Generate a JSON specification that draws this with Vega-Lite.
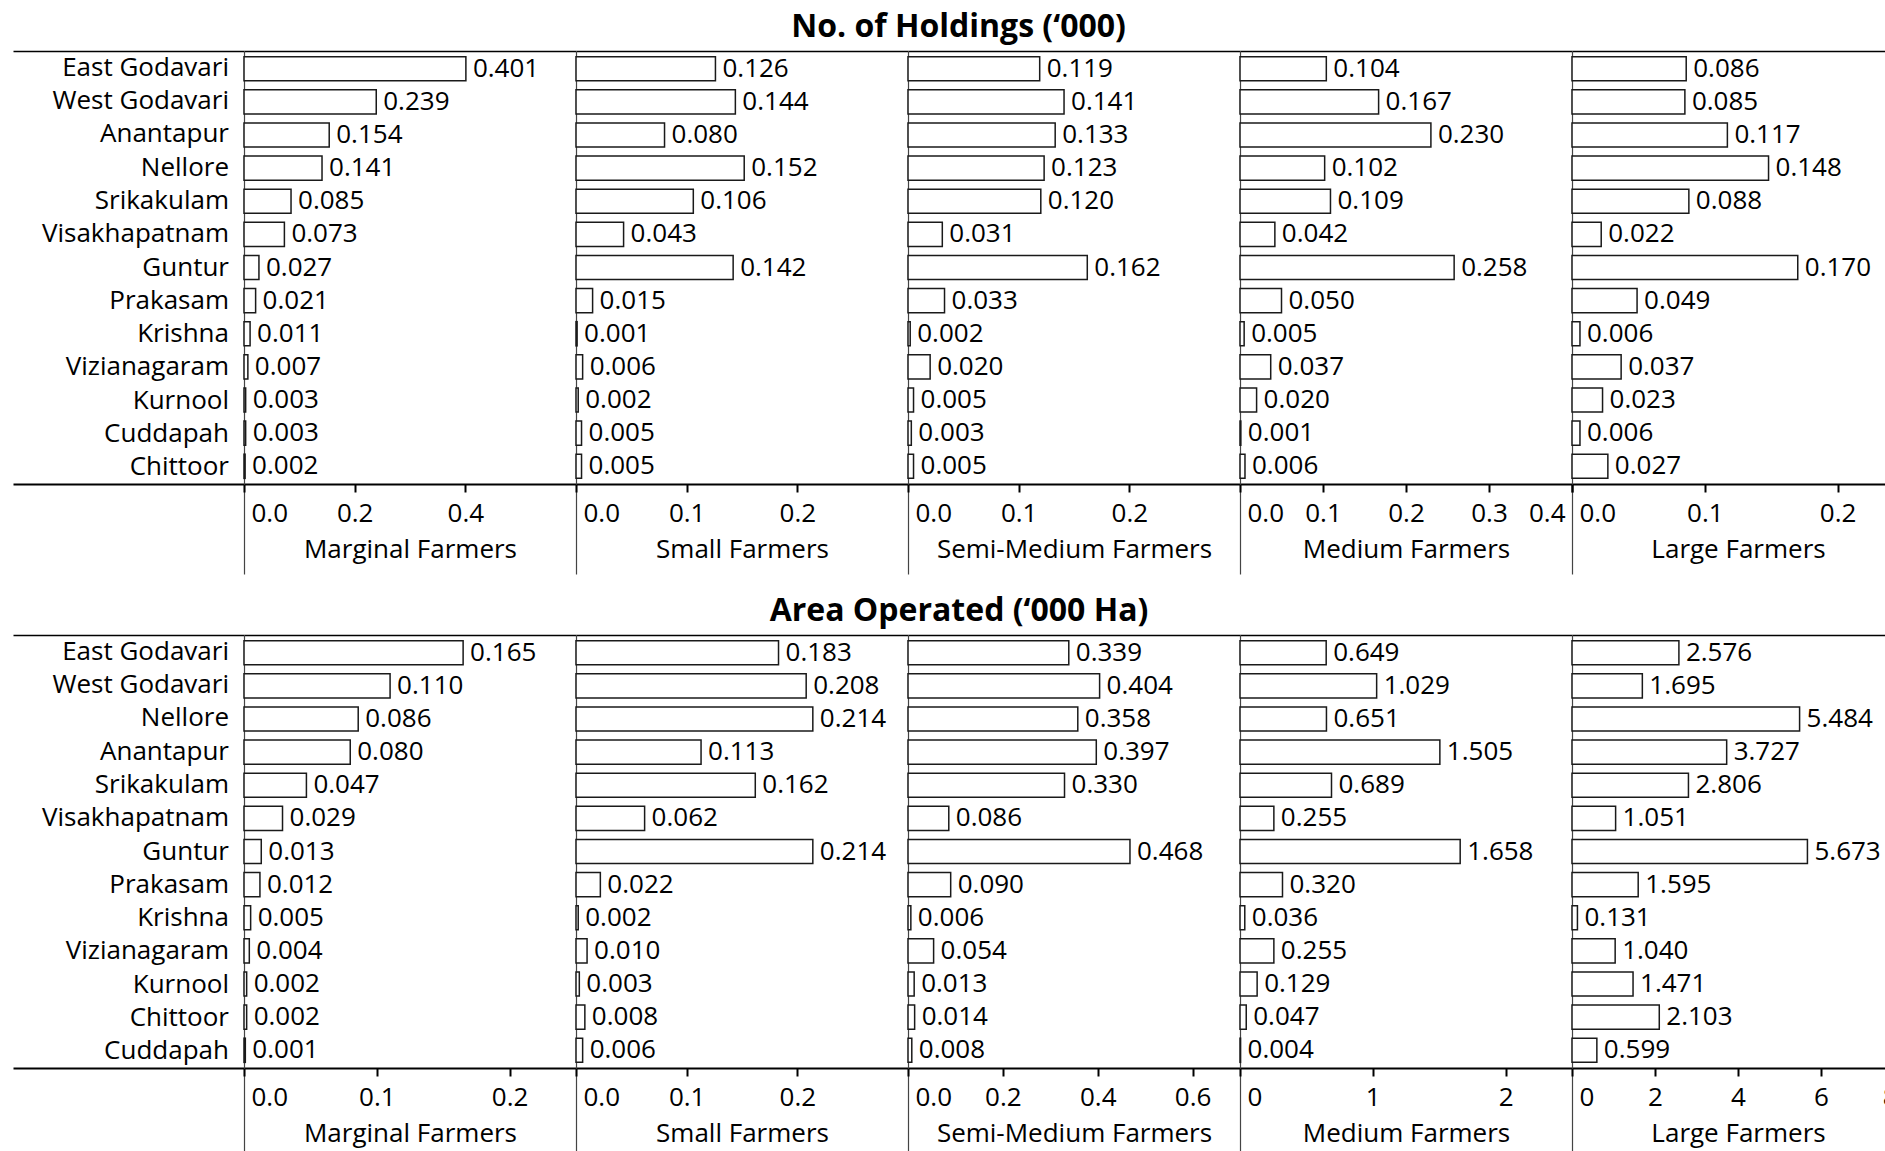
{
"$schema": "https://vega.github.io/schema/vega-lite/v6.json",
"padding": {"left": 13, "top": 11, "right": 0, "bottom": 0},
"config": {
  "view": {"stroke": null},
  "font": "Open Sans",
  "axis": {"grid": false, "labelFont": "Open Sans", "labelFontSize": 26, "labelColor": "black", "titleFont": "Open Sans", "titleFontSize": 26, "titleFontWeight": "normal", "titleColor": "black", "domainColor": "black", "domainWidth": 2, "tickColor": "black", "tickWidth": 2, "tickSize": 8, "labelPadding": 8, "titlePadding": 10, "labelFlush": true, "labelFlushOffset": -7, "labelOverlap": false}
},
"datasets": {
"holdings": [
{"region":"East Godavari","cat":"Marginal Farmers","value":0.401},{"region":"East Godavari","cat":"Small Farmers","value":0.126},{"region":"East Godavari","cat":"Semi-Medium Farmers","value":0.119},{"region":"East Godavari","cat":"Medium Farmers","value":0.104},{"region":"East Godavari","cat":"Large Farmers","value":0.086},
{"region":"West Godavari","cat":"Marginal Farmers","value":0.239},{"region":"West Godavari","cat":"Small Farmers","value":0.144},{"region":"West Godavari","cat":"Semi-Medium Farmers","value":0.141},{"region":"West Godavari","cat":"Medium Farmers","value":0.167},{"region":"West Godavari","cat":"Large Farmers","value":0.085},
{"region":"Anantapur","cat":"Marginal Farmers","value":0.154},{"region":"Anantapur","cat":"Small Farmers","value":0.080},{"region":"Anantapur","cat":"Semi-Medium Farmers","value":0.133},{"region":"Anantapur","cat":"Medium Farmers","value":0.230},{"region":"Anantapur","cat":"Large Farmers","value":0.117},
{"region":"Nellore","cat":"Marginal Farmers","value":0.141},{"region":"Nellore","cat":"Small Farmers","value":0.152},{"region":"Nellore","cat":"Semi-Medium Farmers","value":0.123},{"region":"Nellore","cat":"Medium Farmers","value":0.102},{"region":"Nellore","cat":"Large Farmers","value":0.148},
{"region":"Srikakulam","cat":"Marginal Farmers","value":0.085},{"region":"Srikakulam","cat":"Small Farmers","value":0.106},{"region":"Srikakulam","cat":"Semi-Medium Farmers","value":0.120},{"region":"Srikakulam","cat":"Medium Farmers","value":0.109},{"region":"Srikakulam","cat":"Large Farmers","value":0.088},
{"region":"Visakhapatnam","cat":"Marginal Farmers","value":0.073},{"region":"Visakhapatnam","cat":"Small Farmers","value":0.043},{"region":"Visakhapatnam","cat":"Semi-Medium Farmers","value":0.031},{"region":"Visakhapatnam","cat":"Medium Farmers","value":0.042},{"region":"Visakhapatnam","cat":"Large Farmers","value":0.022},
{"region":"Guntur","cat":"Marginal Farmers","value":0.027},{"region":"Guntur","cat":"Small Farmers","value":0.142},{"region":"Guntur","cat":"Semi-Medium Farmers","value":0.162},{"region":"Guntur","cat":"Medium Farmers","value":0.258},{"region":"Guntur","cat":"Large Farmers","value":0.170},
{"region":"Prakasam","cat":"Marginal Farmers","value":0.021},{"region":"Prakasam","cat":"Small Farmers","value":0.015},{"region":"Prakasam","cat":"Semi-Medium Farmers","value":0.033},{"region":"Prakasam","cat":"Medium Farmers","value":0.050},{"region":"Prakasam","cat":"Large Farmers","value":0.049},
{"region":"Krishna","cat":"Marginal Farmers","value":0.011},{"region":"Krishna","cat":"Small Farmers","value":0.001},{"region":"Krishna","cat":"Semi-Medium Farmers","value":0.002},{"region":"Krishna","cat":"Medium Farmers","value":0.005},{"region":"Krishna","cat":"Large Farmers","value":0.006},
{"region":"Vizianagaram","cat":"Marginal Farmers","value":0.007},{"region":"Vizianagaram","cat":"Small Farmers","value":0.006},{"region":"Vizianagaram","cat":"Semi-Medium Farmers","value":0.020},{"region":"Vizianagaram","cat":"Medium Farmers","value":0.037},{"region":"Vizianagaram","cat":"Large Farmers","value":0.037},
{"region":"Kurnool","cat":"Marginal Farmers","value":0.003},{"region":"Kurnool","cat":"Small Farmers","value":0.002},{"region":"Kurnool","cat":"Semi-Medium Farmers","value":0.005},{"region":"Kurnool","cat":"Medium Farmers","value":0.020},{"region":"Kurnool","cat":"Large Farmers","value":0.023},
{"region":"Cuddapah","cat":"Marginal Farmers","value":0.003},{"region":"Cuddapah","cat":"Small Farmers","value":0.005},{"region":"Cuddapah","cat":"Semi-Medium Farmers","value":0.003},{"region":"Cuddapah","cat":"Medium Farmers","value":0.001},{"region":"Cuddapah","cat":"Large Farmers","value":0.006},
{"region":"Chittoor","cat":"Marginal Farmers","value":0.002},{"region":"Chittoor","cat":"Small Farmers","value":0.005},{"region":"Chittoor","cat":"Semi-Medium Farmers","value":0.005},{"region":"Chittoor","cat":"Medium Farmers","value":0.006},{"region":"Chittoor","cat":"Large Farmers","value":0.027}
],
"area": [
{"region":"East Godavari","cat":"Marginal Farmers","value":0.165},{"region":"East Godavari","cat":"Small Farmers","value":0.183},{"region":"East Godavari","cat":"Semi-Medium Farmers","value":0.339},{"region":"East Godavari","cat":"Medium Farmers","value":0.649},{"region":"East Godavari","cat":"Large Farmers","value":2.576},
{"region":"West Godavari","cat":"Marginal Farmers","value":0.110},{"region":"West Godavari","cat":"Small Farmers","value":0.208},{"region":"West Godavari","cat":"Semi-Medium Farmers","value":0.404},{"region":"West Godavari","cat":"Medium Farmers","value":1.029},{"region":"West Godavari","cat":"Large Farmers","value":1.695},
{"region":"Nellore","cat":"Marginal Farmers","value":0.086},{"region":"Nellore","cat":"Small Farmers","value":0.214},{"region":"Nellore","cat":"Semi-Medium Farmers","value":0.358},{"region":"Nellore","cat":"Medium Farmers","value":0.651},{"region":"Nellore","cat":"Large Farmers","value":5.484},
{"region":"Anantapur","cat":"Marginal Farmers","value":0.080},{"region":"Anantapur","cat":"Small Farmers","value":0.113},{"region":"Anantapur","cat":"Semi-Medium Farmers","value":0.397},{"region":"Anantapur","cat":"Medium Farmers","value":1.505},{"region":"Anantapur","cat":"Large Farmers","value":3.727},
{"region":"Srikakulam","cat":"Marginal Farmers","value":0.047},{"region":"Srikakulam","cat":"Small Farmers","value":0.162},{"region":"Srikakulam","cat":"Semi-Medium Farmers","value":0.330},{"region":"Srikakulam","cat":"Medium Farmers","value":0.689},{"region":"Srikakulam","cat":"Large Farmers","value":2.806},
{"region":"Visakhapatnam","cat":"Marginal Farmers","value":0.029},{"region":"Visakhapatnam","cat":"Small Farmers","value":0.062},{"region":"Visakhapatnam","cat":"Semi-Medium Farmers","value":0.086},{"region":"Visakhapatnam","cat":"Medium Farmers","value":0.255},{"region":"Visakhapatnam","cat":"Large Farmers","value":1.051},
{"region":"Guntur","cat":"Marginal Farmers","value":0.013},{"region":"Guntur","cat":"Small Farmers","value":0.214},{"region":"Guntur","cat":"Semi-Medium Farmers","value":0.468},{"region":"Guntur","cat":"Medium Farmers","value":1.658},{"region":"Guntur","cat":"Large Farmers","value":5.673},
{"region":"Prakasam","cat":"Marginal Farmers","value":0.012},{"region":"Prakasam","cat":"Small Farmers","value":0.022},{"region":"Prakasam","cat":"Semi-Medium Farmers","value":0.090},{"region":"Prakasam","cat":"Medium Farmers","value":0.320},{"region":"Prakasam","cat":"Large Farmers","value":1.595},
{"region":"Krishna","cat":"Marginal Farmers","value":0.005},{"region":"Krishna","cat":"Small Farmers","value":0.002},{"region":"Krishna","cat":"Semi-Medium Farmers","value":0.006},{"region":"Krishna","cat":"Medium Farmers","value":0.036},{"region":"Krishna","cat":"Large Farmers","value":0.131},
{"region":"Vizianagaram","cat":"Marginal Farmers","value":0.004},{"region":"Vizianagaram","cat":"Small Farmers","value":0.010},{"region":"Vizianagaram","cat":"Semi-Medium Farmers","value":0.054},{"region":"Vizianagaram","cat":"Medium Farmers","value":0.255},{"region":"Vizianagaram","cat":"Large Farmers","value":1.040},
{"region":"Kurnool","cat":"Marginal Farmers","value":0.002},{"region":"Kurnool","cat":"Small Farmers","value":0.003},{"region":"Kurnool","cat":"Semi-Medium Farmers","value":0.013},{"region":"Kurnool","cat":"Medium Farmers","value":0.129},{"region":"Kurnool","cat":"Large Farmers","value":1.471},
{"region":"Chittoor","cat":"Marginal Farmers","value":0.002},{"region":"Chittoor","cat":"Small Farmers","value":0.008},{"region":"Chittoor","cat":"Semi-Medium Farmers","value":0.014},{"region":"Chittoor","cat":"Medium Farmers","value":0.047},{"region":"Chittoor","cat":"Large Farmers","value":2.103},
{"region":"Cuddapah","cat":"Marginal Farmers","value":0.001},{"region":"Cuddapah","cat":"Small Farmers","value":0.006},{"region":"Cuddapah","cat":"Semi-Medium Farmers","value":0.008},{"region":"Cuddapah","cat":"Medium Farmers","value":0.004},{"region":"Cuddapah","cat":"Large Farmers","value":0.599}
]
},
"spacing": 20,
"vconcat": [
{
"title": {"text": "No. of Holdings (‘000)", "anchor": "middle", "font": "Open Sans", "fontSize": 32, "fontWeight": "bold", "color": "black", "baseline": "alphabetic", "offset": -18},
"spacing": 0, "bounds": "flush",
"hconcat": [
{"width": 231, "height": 433, "data": {"name": "holdings"}, "transform": [{"filter": {"field": "cat", "equal": "Marginal Farmers"}}],
 "encoding": {"y": {"field": "region", "type": "nominal", "sort": ["East Godavari","West Godavari","Anantapur","Nellore","Srikakulam","Visakhapatnam","Guntur","Prakasam","Krishna","Vizianagaram","Kurnool","Cuddapah","Chittoor"], "scale": {"paddingInner": 0.27, "paddingOuter": 0.17}, "axis": null}},
 "layer": [
  {"mark": {"type": "text", "align": "right", "baseline": "middle", "dx": -15, "fontSize": 26, "font": "Open Sans", "color": "black"},
   "encoding": {"x": {"datum": 1, "type": "quantitative", "scale": {"domain": [0, 1]}, "axis": {"orient": "bottom", "labels": false, "ticks": false, "title": null}}, "text": {"field": "region"}}},
  {"mark": {"type": "text", "opacity": 0},
   "encoding": {"x": {"datum": 1, "type": "quantitative", "scale": {"domain": [0, 1]}, "axis": {"orient": "top", "labels": false, "ticks": false, "title": null, "domainWidth": 1.7}}, "text": {"field": "region"}}}
 ],
 "resolve": {"axis": {"x": "independent"}}},
{"width": 332, "height": 433, "data": {"name": "holdings"}, "transform": [{"filter": {"field": "cat", "equal": "Marginal Farmers"}}],
 "encoding": {"y": {"field": "region", "type": "nominal", "sort": ["East Godavari","West Godavari","Anantapur","Nellore","Srikakulam","Visakhapatnam","Guntur","Prakasam","Krishna","Vizianagaram","Kurnool","Cuddapah","Chittoor"], "scale": {"paddingInner": 0.27, "paddingOuter": 0.17}, "axis": {"title": null, "labels": false, "ticks": false, "domainColor": "#444", "domainWidth": 1.2}}},
 "layer": [
  {"mark": {"type": "bar", "opacity": 0}, "encoding": {"x": {"field": "value", "type": "quantitative", "scale": {"domain": [0, 0.6], "nice": false}, "axis": {"orient": "bottom", "values": [0], "labels": false, "domain": false, "title": null, "tickSize": 90, "tickColor": "#444", "tickWidth": 1.2}}}},
  {"mark": {"type": "bar", "fill": "white", "stroke": "#1a1a1a", "strokeWidth": 1.5}, "encoding": {"x": {"field": "value", "type": "quantitative", "scale": {"domain": [0, 0.6], "nice": false}, "axis": {"orient": "bottom", "values": [0, 0.2, 0.4], "format": ".1f", "title": "Marginal Farmers"}}}},
  {"mark": {"type": "text", "align": "left", "baseline": "middle", "dx": 7, "fontSize": 26, "font": "Open Sans", "color": "black"}, "encoding": {"x": {"field": "value", "type": "quantitative", "scale": {"domain": [0, 0.6], "nice": false}, "axis": {"orient": "top", "labels": false, "ticks": false, "title": null, "domainWidth": 1.7}}, "text": {"field": "value", "format": ".3f"}}}
 ],
 "resolve": {"axis": {"x": "independent"}}},
{"width": 332, "height": 433, "data": {"name": "holdings"}, "transform": [{"filter": {"field": "cat", "equal": "Small Farmers"}}],
 "encoding": {"y": {"field": "region", "type": "nominal", "sort": ["East Godavari","West Godavari","Anantapur","Nellore","Srikakulam","Visakhapatnam","Guntur","Prakasam","Krishna","Vizianagaram","Kurnool","Cuddapah","Chittoor"], "scale": {"paddingInner": 0.27, "paddingOuter": 0.17}, "axis": {"title": null, "labels": false, "ticks": false, "domainColor": "#444", "domainWidth": 1.2}}},
 "layer": [
  {"mark": {"type": "bar", "opacity": 0}, "encoding": {"x": {"field": "value", "type": "quantitative", "scale": {"domain": [0, 0.3], "nice": false}, "axis": {"orient": "bottom", "values": [0], "labels": false, "domain": false, "title": null, "tickSize": 90, "tickColor": "#444", "tickWidth": 1.2}}}},
  {"mark": {"type": "bar", "fill": "white", "stroke": "#1a1a1a", "strokeWidth": 1.5}, "encoding": {"x": {"field": "value", "type": "quantitative", "scale": {"domain": [0, 0.3], "nice": false}, "axis": {"orient": "bottom", "values": [0, 0.1, 0.2], "format": ".1f", "title": "Small Farmers"}}}},
  {"mark": {"type": "text", "align": "left", "baseline": "middle", "dx": 7, "fontSize": 26, "font": "Open Sans", "color": "black"}, "encoding": {"x": {"field": "value", "type": "quantitative", "scale": {"domain": [0, 0.3], "nice": false}, "axis": {"orient": "top", "labels": false, "ticks": false, "title": null, "domainWidth": 1.7}}, "text": {"field": "value", "format": ".3f"}}}
 ],
 "resolve": {"axis": {"x": "independent"}}},
{"width": 332, "height": 433, "data": {"name": "holdings"}, "transform": [{"filter": {"field": "cat", "equal": "Semi-Medium Farmers"}}],
 "encoding": {"y": {"field": "region", "type": "nominal", "sort": ["East Godavari","West Godavari","Anantapur","Nellore","Srikakulam","Visakhapatnam","Guntur","Prakasam","Krishna","Vizianagaram","Kurnool","Cuddapah","Chittoor"], "scale": {"paddingInner": 0.27, "paddingOuter": 0.17}, "axis": {"title": null, "labels": false, "ticks": false, "domainColor": "#444", "domainWidth": 1.2}}},
 "layer": [
  {"mark": {"type": "bar", "opacity": 0}, "encoding": {"x": {"field": "value", "type": "quantitative", "scale": {"domain": [0, 0.3], "nice": false}, "axis": {"orient": "bottom", "values": [0], "labels": false, "domain": false, "title": null, "tickSize": 90, "tickColor": "#444", "tickWidth": 1.2}}}},
  {"mark": {"type": "bar", "fill": "white", "stroke": "#1a1a1a", "strokeWidth": 1.5}, "encoding": {"x": {"field": "value", "type": "quantitative", "scale": {"domain": [0, 0.3], "nice": false}, "axis": {"orient": "bottom", "values": [0, 0.1, 0.2], "format": ".1f", "title": "Semi-Medium Farmers"}}}},
  {"mark": {"type": "text", "align": "left", "baseline": "middle", "dx": 7, "fontSize": 26, "font": "Open Sans", "color": "black"}, "encoding": {"x": {"field": "value", "type": "quantitative", "scale": {"domain": [0, 0.3], "nice": false}, "axis": {"orient": "top", "labels": false, "ticks": false, "title": null, "domainWidth": 1.7}}, "text": {"field": "value", "format": ".3f"}}}
 ],
 "resolve": {"axis": {"x": "independent"}}},
{"width": 332, "height": 433, "data": {"name": "holdings"}, "transform": [{"filter": {"field": "cat", "equal": "Medium Farmers"}}],
 "encoding": {"y": {"field": "region", "type": "nominal", "sort": ["East Godavari","West Godavari","Anantapur","Nellore","Srikakulam","Visakhapatnam","Guntur","Prakasam","Krishna","Vizianagaram","Kurnool","Cuddapah","Chittoor"], "scale": {"paddingInner": 0.27, "paddingOuter": 0.17}, "axis": {"title": null, "labels": false, "ticks": false, "domainColor": "#444", "domainWidth": 1.2}}},
 "layer": [
  {"mark": {"type": "bar", "opacity": 0}, "encoding": {"x": {"field": "value", "type": "quantitative", "scale": {"domain": [0, 0.4], "nice": false}, "axis": {"orient": "bottom", "values": [0], "labels": false, "domain": false, "title": null, "tickSize": 90, "tickColor": "#444", "tickWidth": 1.2}}}},
  {"mark": {"type": "bar", "fill": "white", "stroke": "#1a1a1a", "strokeWidth": 1.5}, "encoding": {"x": {"field": "value", "type": "quantitative", "scale": {"domain": [0, 0.4], "nice": false}, "axis": {"orient": "bottom", "values": [0, 0.1, 0.2, 0.3, 0.4], "format": ".1f", "title": "Medium Farmers"}}}},
  {"mark": {"type": "text", "align": "left", "baseline": "middle", "dx": 7, "fontSize": 26, "font": "Open Sans", "color": "black"}, "encoding": {"x": {"field": "value", "type": "quantitative", "scale": {"domain": [0, 0.4], "nice": false}, "axis": {"orient": "top", "labels": false, "ticks": false, "title": null, "domainWidth": 1.7}}, "text": {"field": "value", "format": ".3f"}}}
 ],
 "resolve": {"axis": {"x": "independent"}}},
{"width": 332, "height": 433, "data": {"name": "holdings"}, "transform": [{"filter": {"field": "cat", "equal": "Large Farmers"}}],
 "encoding": {"y": {"field": "region", "type": "nominal", "sort": ["East Godavari","West Godavari","Anantapur","Nellore","Srikakulam","Visakhapatnam","Guntur","Prakasam","Krishna","Vizianagaram","Kurnool","Cuddapah","Chittoor"], "scale": {"paddingInner": 0.27, "paddingOuter": 0.17}, "axis": {"title": null, "labels": false, "ticks": false, "domainColor": "#444", "domainWidth": 1.2}}},
 "layer": [
  {"mark": {"type": "bar", "opacity": 0}, "encoding": {"x": {"field": "value", "type": "quantitative", "scale": {"domain": [0, 0.25], "nice": false}, "axis": {"orient": "bottom", "values": [0], "labels": false, "domain": false, "title": null, "tickSize": 90, "tickColor": "#444", "tickWidth": 1.2}}}},
  {"mark": {"type": "bar", "fill": "white", "stroke": "#1a1a1a", "strokeWidth": 1.5}, "encoding": {"x": {"field": "value", "type": "quantitative", "scale": {"domain": [0, 0.25], "nice": false}, "axis": {"orient": "bottom", "values": [0, 0.1, 0.2], "format": ".1f", "title": "Large Farmers"}}}},
  {"mark": {"type": "text", "align": "left", "baseline": "middle", "dx": 7, "fontSize": 26, "font": "Open Sans", "color": "black"}, "encoding": {"x": {"field": "value", "type": "quantitative", "scale": {"domain": [0, 0.25], "nice": false}, "axis": {"orient": "top", "labels": false, "ticks": false, "title": null, "domainWidth": 1.7}}, "text": {"field": "value", "format": ".3f"}}}
 ],
 "resolve": {"axis": {"x": "independent"}}}
]
},
{
"title": {"text": "Area Operated (‘000 Ha)", "anchor": "middle", "font": "Open Sans", "fontSize": 32, "fontWeight": "bold", "color": "black", "baseline": "alphabetic", "offset": -18},
"spacing": 0, "bounds": "flush",
"hconcat": [
{"width": 231, "height": 433, "data": {"name": "area"}, "transform": [{"filter": {"field": "cat", "equal": "Marginal Farmers"}}],
 "encoding": {"y": {"field": "region", "type": "nominal", "sort": ["East Godavari","West Godavari","Nellore","Anantapur","Srikakulam","Visakhapatnam","Guntur","Prakasam","Krishna","Vizianagaram","Kurnool","Chittoor","Cuddapah"], "scale": {"paddingInner": 0.27, "paddingOuter": 0.17}, "axis": null}},
 "layer": [
  {"mark": {"type": "text", "align": "right", "baseline": "middle", "dx": -15, "fontSize": 26, "font": "Open Sans", "color": "black"},
   "encoding": {"x": {"datum": 1, "type": "quantitative", "scale": {"domain": [0, 1]}, "axis": {"orient": "bottom", "labels": false, "ticks": false, "title": null}}, "text": {"field": "region"}}},
  {"mark": {"type": "text", "opacity": 0},
   "encoding": {"x": {"datum": 1, "type": "quantitative", "scale": {"domain": [0, 1]}, "axis": {"orient": "top", "labels": false, "ticks": false, "title": null, "domainWidth": 1.7}}, "text": {"field": "region"}}}
 ],
 "resolve": {"axis": {"x": "independent"}}},
{"width": 332, "height": 433, "data": {"name": "area"}, "transform": [{"filter": {"field": "cat", "equal": "Marginal Farmers"}}],
 "encoding": {"y": {"field": "region", "type": "nominal", "sort": ["East Godavari","West Godavari","Nellore","Anantapur","Srikakulam","Visakhapatnam","Guntur","Prakasam","Krishna","Vizianagaram","Kurnool","Chittoor","Cuddapah"], "scale": {"paddingInner": 0.27, "paddingOuter": 0.17}, "axis": {"title": null, "labels": false, "ticks": false, "domainColor": "#444", "domainWidth": 1.2}}},
 "layer": [
  {"mark": {"type": "bar", "opacity": 0}, "encoding": {"x": {"field": "value", "type": "quantitative", "scale": {"domain": [0, 0.25], "nice": false}, "axis": {"orient": "bottom", "values": [0], "labels": false, "domain": false, "title": null, "tickSize": 90, "tickColor": "#444", "tickWidth": 1.2}}}},
  {"mark": {"type": "bar", "fill": "white", "stroke": "#1a1a1a", "strokeWidth": 1.5}, "encoding": {"x": {"field": "value", "type": "quantitative", "scale": {"domain": [0, 0.25], "nice": false}, "axis": {"orient": "bottom", "values": [0, 0.1, 0.2], "format": ".1f", "title": "Marginal Farmers"}}}},
  {"mark": {"type": "text", "align": "left", "baseline": "middle", "dx": 7, "fontSize": 26, "font": "Open Sans", "color": "black"}, "encoding": {"x": {"field": "value", "type": "quantitative", "scale": {"domain": [0, 0.25], "nice": false}, "axis": {"orient": "top", "labels": false, "ticks": false, "title": null, "domainWidth": 1.7}}, "text": {"field": "value", "format": ".3f"}}}
 ],
 "resolve": {"axis": {"x": "independent"}}},
{"width": 332, "height": 433, "data": {"name": "area"}, "transform": [{"filter": {"field": "cat", "equal": "Small Farmers"}}],
 "encoding": {"y": {"field": "region", "type": "nominal", "sort": ["East Godavari","West Godavari","Nellore","Anantapur","Srikakulam","Visakhapatnam","Guntur","Prakasam","Krishna","Vizianagaram","Kurnool","Chittoor","Cuddapah"], "scale": {"paddingInner": 0.27, "paddingOuter": 0.17}, "axis": {"title": null, "labels": false, "ticks": false, "domainColor": "#444", "domainWidth": 1.2}}},
 "layer": [
  {"mark": {"type": "bar", "opacity": 0}, "encoding": {"x": {"field": "value", "type": "quantitative", "scale": {"domain": [0, 0.3], "nice": false}, "axis": {"orient": "bottom", "values": [0], "labels": false, "domain": false, "title": null, "tickSize": 90, "tickColor": "#444", "tickWidth": 1.2}}}},
  {"mark": {"type": "bar", "fill": "white", "stroke": "#1a1a1a", "strokeWidth": 1.5}, "encoding": {"x": {"field": "value", "type": "quantitative", "scale": {"domain": [0, 0.3], "nice": false}, "axis": {"orient": "bottom", "values": [0, 0.1, 0.2], "format": ".1f", "title": "Small Farmers"}}}},
  {"mark": {"type": "text", "align": "left", "baseline": "middle", "dx": 7, "fontSize": 26, "font": "Open Sans", "color": "black"}, "encoding": {"x": {"field": "value", "type": "quantitative", "scale": {"domain": [0, 0.3], "nice": false}, "axis": {"orient": "top", "labels": false, "ticks": false, "title": null, "domainWidth": 1.7}}, "text": {"field": "value", "format": ".3f"}}}
 ],
 "resolve": {"axis": {"x": "independent"}}},
{"width": 332, "height": 433, "data": {"name": "area"}, "transform": [{"filter": {"field": "cat", "equal": "Semi-Medium Farmers"}}],
 "encoding": {"y": {"field": "region", "type": "nominal", "sort": ["East Godavari","West Godavari","Nellore","Anantapur","Srikakulam","Visakhapatnam","Guntur","Prakasam","Krishna","Vizianagaram","Kurnool","Chittoor","Cuddapah"], "scale": {"paddingInner": 0.27, "paddingOuter": 0.17}, "axis": {"title": null, "labels": false, "ticks": false, "domainColor": "#444", "domainWidth": 1.2}}},
 "layer": [
  {"mark": {"type": "bar", "opacity": 0}, "encoding": {"x": {"field": "value", "type": "quantitative", "scale": {"domain": [0, 0.7], "nice": false}, "axis": {"orient": "bottom", "values": [0], "labels": false, "domain": false, "title": null, "tickSize": 90, "tickColor": "#444", "tickWidth": 1.2}}}},
  {"mark": {"type": "bar", "fill": "white", "stroke": "#1a1a1a", "strokeWidth": 1.5}, "encoding": {"x": {"field": "value", "type": "quantitative", "scale": {"domain": [0, 0.7], "nice": false}, "axis": {"orient": "bottom", "values": [0, 0.2, 0.4, 0.6], "format": ".1f", "title": "Semi-Medium Farmers"}}}},
  {"mark": {"type": "text", "align": "left", "baseline": "middle", "dx": 7, "fontSize": 26, "font": "Open Sans", "color": "black"}, "encoding": {"x": {"field": "value", "type": "quantitative", "scale": {"domain": [0, 0.7], "nice": false}, "axis": {"orient": "top", "labels": false, "ticks": false, "title": null, "domainWidth": 1.7}}, "text": {"field": "value", "format": ".3f"}}}
 ],
 "resolve": {"axis": {"x": "independent"}}},
{"width": 332, "height": 433, "data": {"name": "area"}, "transform": [{"filter": {"field": "cat", "equal": "Medium Farmers"}}],
 "encoding": {"y": {"field": "region", "type": "nominal", "sort": ["East Godavari","West Godavari","Nellore","Anantapur","Srikakulam","Visakhapatnam","Guntur","Prakasam","Krishna","Vizianagaram","Kurnool","Chittoor","Cuddapah"], "scale": {"paddingInner": 0.27, "paddingOuter": 0.17}, "axis": {"title": null, "labels": false, "ticks": false, "domainColor": "#444", "domainWidth": 1.2}}},
 "layer": [
  {"mark": {"type": "bar", "opacity": 0}, "encoding": {"x": {"field": "value", "type": "quantitative", "scale": {"domain": [0, 2.5], "nice": false}, "axis": {"orient": "bottom", "values": [0], "labels": false, "domain": false, "title": null, "tickSize": 90, "tickColor": "#444", "tickWidth": 1.2}}}},
  {"mark": {"type": "bar", "fill": "white", "stroke": "#1a1a1a", "strokeWidth": 1.5}, "encoding": {"x": {"field": "value", "type": "quantitative", "scale": {"domain": [0, 2.5], "nice": false}, "axis": {"orient": "bottom", "values": [0, 1, 2], "format": "d", "title": "Medium Farmers"}}}},
  {"mark": {"type": "text", "align": "left", "baseline": "middle", "dx": 7, "fontSize": 26, "font": "Open Sans", "color": "black"}, "encoding": {"x": {"field": "value", "type": "quantitative", "scale": {"domain": [0, 2.5], "nice": false}, "axis": {"orient": "top", "labels": false, "ticks": false, "title": null, "domainWidth": 1.7}}, "text": {"field": "value", "format": ".3f"}}}
 ],
 "resolve": {"axis": {"x": "independent"}}},
{"width": 332, "height": 433, "data": {"name": "area"}, "transform": [{"filter": {"field": "cat", "equal": "Large Farmers"}}],
 "encoding": {"y": {"field": "region", "type": "nominal", "sort": ["East Godavari","West Godavari","Nellore","Anantapur","Srikakulam","Visakhapatnam","Guntur","Prakasam","Krishna","Vizianagaram","Kurnool","Chittoor","Cuddapah"], "scale": {"paddingInner": 0.27, "paddingOuter": 0.17}, "axis": {"title": null, "labels": false, "ticks": false, "domainColor": "#444", "domainWidth": 1.2}}},
 "layer": [
  {"mark": {"type": "bar", "opacity": 0}, "encoding": {"x": {"field": "value", "type": "quantitative", "scale": {"domain": [0, 8], "nice": false}, "axis": {"orient": "bottom", "values": [0], "labels": false, "domain": false, "title": null, "tickSize": 90, "tickColor": "#444", "tickWidth": 1.2}}}},
  {"mark": {"type": "bar", "fill": "white", "stroke": "#1a1a1a", "strokeWidth": 1.5}, "encoding": {"x": {"field": "value", "type": "quantitative", "scale": {"domain": [0, 8], "nice": false}, "axis": {"orient": "bottom", "values": [0, 2, 4, 6, 8], "format": "d", "title": "Large Farmers"}}}},
  {"mark": {"type": "text", "align": "left", "baseline": "middle", "dx": 7, "fontSize": 26, "font": "Open Sans", "color": "black"}, "encoding": {"x": {"field": "value", "type": "quantitative", "scale": {"domain": [0, 8], "nice": false}, "axis": {"orient": "top", "labels": false, "ticks": false, "title": null, "domainWidth": 1.7}}, "text": {"field": "value", "format": ".3f"}}}
 ],
 "resolve": {"axis": {"x": "independent"}}}
]
}
]
}
